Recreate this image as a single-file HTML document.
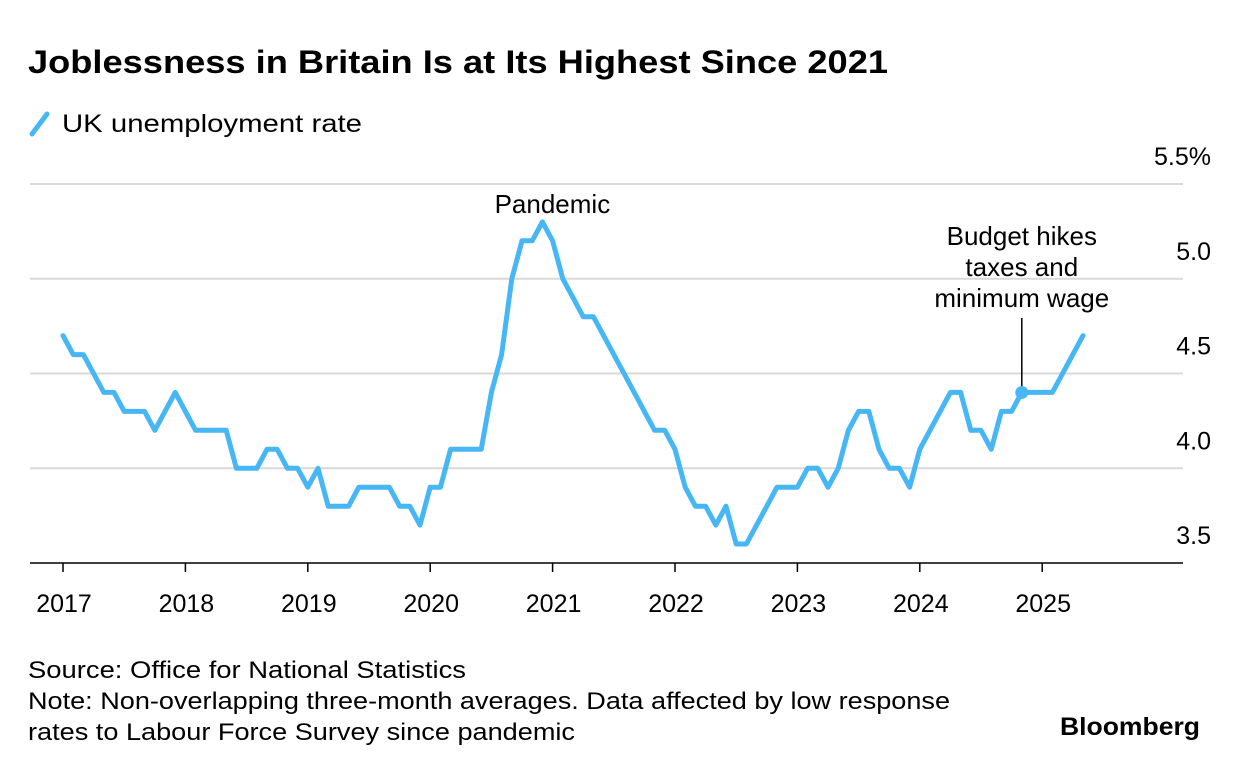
<!DOCTYPE html>
<html><head><meta charset="utf-8"><style>
body{margin:0;background:#fff;font-family:"Liberation Sans",sans-serif;}
svg text{font-family:"Liberation Sans",sans-serif;}
</style></head><body>
<svg width="1240" height="770">
<text x="28" y="73" font-size="32" font-weight="bold" fill="#000" textLength="860" lengthAdjust="spacingAndGlyphs">Joblessness in Britain Is at Its Highest Since 2021</text>
<g>
<line x1="32" y1="134" x2="47" y2="114" stroke="#47b6f5" stroke-width="5" stroke-linecap="round"/>
<text x="62" y="132" font-size="25" fill="#000" textLength="300" lengthAdjust="spacingAndGlyphs">UK unemployment rate</text>
</g>
<g id="grid"></g><g id="xaxis"></g>
<path id="line" fill="none" stroke="#47b6f5" stroke-width="5" stroke-linejoin="round" stroke-linecap="round"/>
<g id="annot"></g>
<text x="28" y="678" font-size="24" fill="#000" textLength="438" lengthAdjust="spacingAndGlyphs">Source: Office for National Statistics</text>
<text x="28" y="709" font-size="24" fill="#000" textLength="922" lengthAdjust="spacingAndGlyphs">Note: Non-overlapping three-month averages. Data affected by low response</text>
<text x="28" y="740" font-size="24" fill="#000" textLength="547" lengthAdjust="spacingAndGlyphs">rates to Labour Force Survey since pandemic</text>
<text x="1200" y="735" font-size="25" font-weight="bold" text-anchor="end" fill="#000" textLength="140" lengthAdjust="spacingAndGlyphs">Bloomberg</text>
</svg>
<script>
const values=[4.7,4.6,4.6,4.5,4.4,4.4,4.3,4.3,4.3,4.2,4.3,4.4,
4.3,4.2,4.2,4.2,4.2,4.0,4.0,4.0,4.1,4.1,4.0,4.0,
3.9,4.0,3.8,3.8,3.8,3.9,3.9,3.9,3.9,3.8,3.8,3.7,
3.9,3.9,4.1,4.1,4.1,4.1,4.4,4.6,5.0,5.2,5.2,5.3,
5.2,5.0,4.9,4.8,4.8,4.7,4.6,4.5,4.4,4.3,4.2,4.2,
4.1,3.9,3.8,3.8,3.7,3.8,3.6,3.6,3.7,3.8,3.9,3.9,
3.9,4.0,4.0,3.9,4.0,4.2,4.3,4.3,4.1,4.0,4.0,3.9,
4.1,4.2,4.3,4.4,4.4,4.2,4.2,4.1,4.3,4.3,4.4,4.4,
4.4,4.4,4.5,4.6,4.7];
const startYear=2017;
const yearLabels=["2017","2018","2019","2020","2021","2022","2023","2024","2025"];
const yTicks=[3.5,4.0,4.5,5.0,5.5];
const yTickLabels=["3.5","4.0","4.5","5.0","5.5%"];
const annotIndex=94;
const ns="http://www.w3.org/2000/svg";
function X(i){return 63+i*(122.4/12);}
function Y(v){return 563-(v-3.5)*189.5;}
function mk(t,a,p){const e=document.createElementNS(ns,t);for(const k in a)e.setAttribute(k,a[k]);p.appendChild(e);return e;}
const grid=document.getElementById('grid');
yTicks.forEach((v,i)=>{
 if(i>0){const l=mk('line',{x1:30,x2:1183,y1:Y(v),y2:Y(v),stroke:'#d9d9d9','stroke-width':2},grid);
 
 }
 const t=mk('text',{x:1211,y:Y(v)-19,'font-size':25,'text-anchor':'end',fill:'#000'},grid);
 t.textContent=yTickLabels[i];
 
 
});
const xa=document.getElementById('xaxis');
const ax=mk('line',{x1:30,x2:1183,y1:563,y2:563,stroke:'#000','stroke-width':1.5},xa);


yearLabels.forEach((s,i)=>{
 const x=X(i*12);
 mk('line',{x1:x,x2:x,y1:563,y2:572,stroke:'#000','stroke-width':1.5},xa);
 const t=mk('text',{x:x+1,y:612,'font-size':25,'text-anchor':'middle',fill:'#000'},xa);
 t.textContent=s;
 
 
});
document.getElementById('line').setAttribute('d',values.map((v,i)=>(i?'L':'M')+X(i).toFixed(1)+','+Y(v).toFixed(1)).join(''));
const an=document.getElementById('annot');
let pk=0;values.forEach((v,i)=>{if(v>values[pk])pk=i;});
const pt=mk('text',{x:X(pk)+10,y:Y(values[pk])-9,'font-size':26,'text-anchor':'middle',fill:'#000'},an);
pt.textContent='Pandemic';


const ax2=X(annotIndex),ay=Y(values[annotIndex]);
mk('line',{x1:ax2,x2:ax2,y1:318,y2:ay,stroke:'#000','stroke-width':1.5},an);
const dot=mk('circle',{cx:ax2,cy:ay,r:6.5,fill:'#47b6f5'},an);


['Budget hikes','taxes and','minimum wage'].forEach((s,i)=>{
 const t=mk('text',{x:ax2,y:245+i*31,'font-size':26,'text-anchor':'middle',fill:'#000'},an);
 t.textContent=s;
 
 
});
</script>
</body></html>
